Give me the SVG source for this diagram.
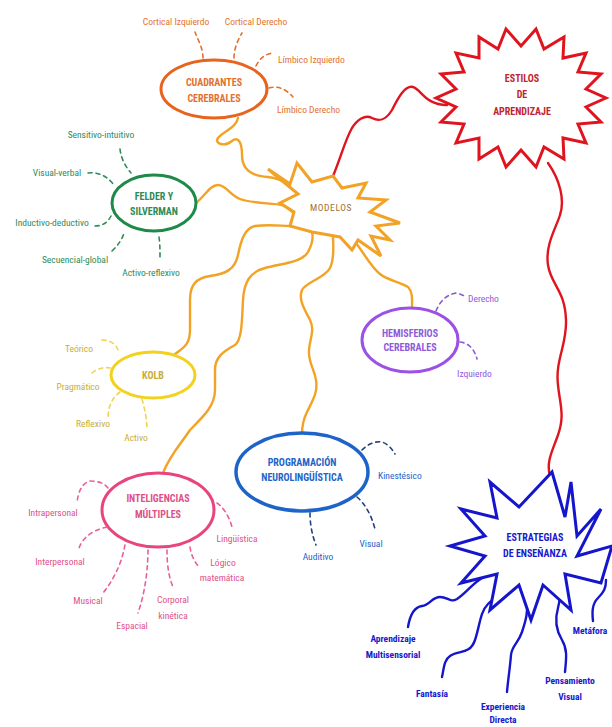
<svg xmlns="http://www.w3.org/2000/svg" width="612" height="727" viewBox="0 0 612 727">
<style>
text{font-family:"Liberation Sans Narrow","Roboto Condensed","Liberation Sans",Arial,sans-serif;font-size:9.5px;text-anchor:middle}
.t{font-size:10px;font-weight:bold}
.st{text-anchor:start}
.d{fill:none;stroke-width:1.6;stroke-dasharray:4 4;stroke-linecap:round}
.c{fill:none;stroke-width:2.4;stroke-linecap:round}
.o{stroke:#F2A225}
.or{fill:#E2712F}
.gr{fill:#2E8B57}
.pu{fill:#9059DC}
.ye{fill:#C9AD36}
.bl{fill:#1E64C8}
.pk{fill:#E0508A}
.db{fill:#1818CC;font-weight:bold}
</style>
<rect width="612" height="727" fill="#ffffff"/>
<g id="connectors">
<path class="c o" d="M238,118 C236,128 225,130 218,138 C214,144 225,147 232,141 C238,136 242,142 242,155 C242,168 250,176 268,177 C278,178 285,182 290,186"/>
<path class="c o" d="M196,203 C205,196 210,185 218,185 C226,185 230,195 240,199 C250,203 270,203 282,205 C288,207 290,211 294,213"/>
<path class="c o" d="M175,354 C183,348 190,345 190,330 L190,300 C190,285 196,278 210,276 C225,274 235,270 238,255 C241,240 245,228 255,226 C270,224 282,226 292,226"/>
<path class="c o" d="M163,473 C170,455 180,445 190,430 C205,415 215,405 215,390 L215,370 C215,358 222,352 235,345 C242,340 242,320 243,300 C244,282 250,272 265,268 C285,263 302,262 308,252 C313,243 313,236 312,232"/>
<path class="c o" d="M302,434 C302,428 303,420 307,412 C313,400 318,392 316,380 C314,368 308,362 309,350 C310,338 315,330 310,320 C305,310 298,300 302,290 C306,282 325,278 330,268 C335,258 333,245 333,236"/>
<path class="c o" d="M356,243 C365,255 372,268 380,274 C387,280 400,282 408,287 C413,292 412,300 412,308"/>
<path class="c" stroke="#E0141E" d="M333,176 C340,160 345,140 352,128 C357,120 365,114 372,118 C380,122 386,120 392,110 C398,98 405,85 413,87 C421,89 425,105 447,105"/>
<path class="c" stroke="#E0141E" d="M548,163 C560,180 565,200 560,215 C556,228 545,245 548,265 C551,285 565,290 566,320 C567,345 555,360 558,385 C560,405 565,415 558,435 C552,452 546,462 550,476"/>
<g stroke="#1515CC">
<path class="c" d="M408,627 C410,615 414,607 422,606 C430,605 432,597 440,597 C448,597 450,603 457,599 C466,593 472,584 482,578"/>
<path class="c" d="M442,677 C444,668 444,660 450,656 C458,650 470,655 475,640 C480,625 480,612 488,604 C495,597 502,595 504,582"/>
<path class="c" d="M507,692 C508,680 510,668 511,655 C512,645 518,644 522,632 C526,620 528,612 527,600 C526,592 524,588 522,580"/>
<path class="c" d="M527,612 L537,584"/>
<path class="c" d="M565,672 C566,660 568,650 562,640 C556,630 555,618 558,608 C561,598 560,590 558,580"/>
<path class="c" d="M593,621 C592,612 592,604 598,598 C604,592 606,588 606,580"/>
</g>
</g>
<g id="estilos">
<polygon fill="#fff" stroke="#E0141E" stroke-width="3" stroke-linejoin="miter" points="606,98 586,107 601,122 578,124 586,143 563,138 564,159 544,147 536,167 521,150 506,167 498,147 479,159 479,138 456,143 464,124 441,122 456,107 436,98 456,89 441,74 464,72 456,53 479,58 479,37 498,49 506,29 521,46 536,29 544,49 564,37 563,58 586,53 578,72 601,74 586,89"/>
<text class="t" x="522" y="82" fill="#C0252E">ESTILOS</text>
<text class="t" x="522" y="98" fill="#C0252E">DE</text>
<text class="t" x="522" y="115" fill="#C0252E">APRENDIZAJE</text>
</g>
<g id="modelos">
<polygon fill="#fff" stroke="#F2A225" stroke-width="3" points="268,169 290,184 297,163 312,182 333,176 342,188 366,183 358,198 386,200 370,212 400,223 376,226 390,240 371,236 381,256 358,240 352,250 340,237 312,232 290,226 294,212 280,203 298,194"/>
<text x="331" y="211" fill="#A0702E" letter-spacing="0.6">MODELOS</text>
</g>
<g id="cuadrantes">
<ellipse cx="214" cy="89" rx="53" ry="29" fill="#fff" stroke="#E8641E" stroke-width="3"/>
<text class="t or" x="214" y="86">CUADRANTES</text>
<text class="t or" x="214" y="102">CEREBRALES</text>
<g stroke="#E07030">
<path class="d" d="M203,58 C203,48 198,40 195,32"/>
<path class="d" d="M234,58 C234,48 238,40 242,33"/>
<path class="d" d="M256,66 C260,58 265,54 273,53"/>
<path class="d" d="M269,88 C276,86 284,87 293,97"/>
</g>
<text class="or" x="176" y="25">Cortical Izquierdo</text>
<text class="or" x="256" y="25">Cortical Derecho</text>
<text class="or st" x="278" y="63">Límbico Izquierdo</text>
<text class="or st" x="277" y="113">Límbico Derecho</text>
</g>
<g id="felder">
<ellipse cx="154" cy="203" rx="42" ry="28" fill="#fff" stroke="#1E8A4A" stroke-width="3"/>
<text class="t gr" x="154" y="200">FELDER Y</text>
<text class="t gr" x="154" y="215">SILVERMAN</text>
<g stroke="#2E8B57">
<path class="d" d="M120,149 C121,158 125,166 131,173"/>
<path class="d" d="M88,173 C98,172 106,175 114,185"/>
<path class="d" d="M95,226 C103,226 108,222 111,216"/>
<path class="d" d="M112,251 C118,245 122,240 124,233"/>
<path class="d" d="M159,237 C160,244 160,250 160,258"/>
</g>
<text class="gr" x="101" y="138">Sensitivo-intuitivo</text>
<text class="gr" x="57" y="176">Visual-verbal</text>
<text class="gr" x="52" y="226">Inductivo-deductivo</text>
<text class="gr" x="75" y="263">Secuencial-global</text>
<text class="gr" x="151" y="276">Activo-reflexivo</text>
</g>
<g id="hemisferios">
<ellipse cx="410" cy="340" rx="48" ry="32" fill="#fff" stroke="#9B50E6" stroke-width="3"/>
<text class="t pu" x="410" y="337">HEMISFERIOS</text>
<text class="t pu" x="410" y="351">CEREBRALES</text>
<g stroke="#8A5AD0">
<path class="d" d="M436,311 C440,301 447,294 457,293 L465,296"/>
<path class="d" d="M460,342 C468,343 474,348 477,359"/>
</g>
<text class="pu st" x="468" y="302">Derecho</text>
<text class="pu st" x="457" y="377">Izquierdo</text>
</g>
<g id="kolb">
<ellipse cx="153" cy="375" rx="42" ry="23" fill="#fff" stroke="#F2D21C" stroke-width="3"/>
<text class="t ye" x="153" y="379">KOLB</text>
<g stroke="#EFD450">
<path class="d" d="M102,340 C110,340 117,344 119,353"/>
<path class="d" d="M92,373 C98,368 104,367 111,368"/>
<path class="d" d="M120,392 C112,398 108,406 108,419"/>
<path class="d" d="M142,399 C145,410 147,420 147,430"/>
</g>
<text class="ye" x="79" y="352">Teórico</text>
<text class="ye" x="78" y="390">Pragmático</text>
<text class="ye" x="93" y="427">Reflexivo</text>
<text class="ye" x="136" y="441">Activo</text>
</g>
<g id="pnl">
<ellipse cx="302" cy="472" rx="66" ry="39" fill="#fff" stroke="#1E64C8" stroke-width="3.5"/>
<text class="t bl" x="302" y="466">PROGRAMACIÓN</text>
<text class="t bl" x="302" y="481">NEUROLINGÜÍSTICA</text>
<g stroke="#24407E">
<path class="d" d="M362,450 C368,444 375,441 382,442 C388,444 392,449 395,454"/>
<path class="d" d="M357,497 C365,504 371,514 375,529"/>
<path class="d" d="M310,513 C310,524 312,535 316,545"/>
</g>
<text class="bl st" x="378" y="479">Kinestésico</text>
<text class="bl" x="371" y="547">Visual</text>
<text class="bl" x="318" y="560">Auditivo</text>
</g>
<g id="inteligencias">
<ellipse cx="158" cy="510" rx="56" ry="37" fill="#fff" stroke="#E8457F" stroke-width="3"/>
<text class="t pk" x="158" y="502">INTELIGENCIAS</text>
<text class="t pk" x="158" y="518">MÚLTIPLES</text>
<g stroke="#E8609A">
<path class="d" d="M108,488 C104,483 98,481 90,481 C82,483 78,492 77,503"/>
<path class="d" d="M107,527 C98,529 88,533 82,542 C80,545 79,548 78,551"/>
<path class="d" d="M125,545 C122,560 117,575 103,593"/>
<path class="d" d="M148,550 C148,565 146,590 138,613"/>
<path class="d" d="M167,550 C167,562 168,575 173,587"/>
<path class="d" d="M190,547 C191,554 194,562 200,568"/>
<path class="d" d="M217,503 C223,507 229,516 232,527"/>
</g>
<text class="pk" x="53" y="516">Intrapersonal</text>
<text class="pk" x="60" y="565">Interpersonal</text>
<text class="pk" x="88" y="604">Musical</text>
<text class="pk" x="132" y="629">Espacial</text>
<text class="pk" x="173" y="603">Corporal</text>
<text class="pk" x="173" y="619">kinética</text>
<text class="pk" x="237" y="542">Lingüística</text>
<text class="pk" x="223" y="566">Lógico</text>
<text class="pk" x="222" y="581">matemática</text>
</g>
<g id="estrategias">
<polygon fill="#fff" stroke="#1515CC" stroke-width="3" points="552,472 565,517 571,482 577,536 601,509 577,556 612,546 601,583 565,574 571,610 543,585 531,620 519,585 490,610 497,574 461,583 485,556 450,546 485,536 461,509 497,518 490,482 519,507"/>
<text class="t db" x="535" y="541">ESTRATEGIAS</text>
<text class="t db" x="535" y="557">DE ENSEÑANZA</text>
</g>
<g id="estrategias-labels">
<text class="db" x="393" y="642">Aprendizaje</text>
<text class="db" x="393" y="658">Multisensorial</text>
<text class="db" x="432" y="697">Fantasía</text>
<text class="db" x="503" y="710">Experiencia</text>
<text class="db" x="503" y="723">Directa</text>
<text class="db" x="570" y="684">Pensamiento</text>
<text class="db" x="570" y="700">Visual</text>
<text class="db" x="590" y="634">Metáfora</text>
</g>
</svg>
